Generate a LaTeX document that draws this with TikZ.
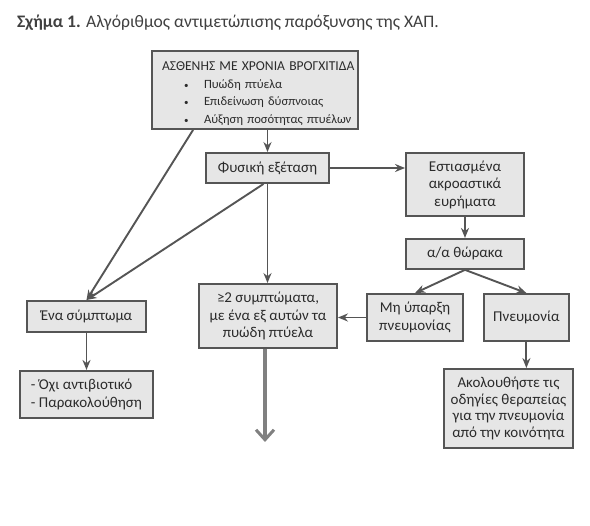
\documentclass[tikz,border=0pt]{standalone}
\usepackage{fontspec}
\setmainfont{Carlito}
\usetikzlibrary{arrows.meta, positioning, calc}
\definecolor{BoxFill}{HTML}{E6E6E6}
\definecolor{LineGray}{HTML}{555555}
\definecolor{TextDark}{HTML}{2B2B2B}
\newcommand{\symitem}[1]{\mbox{\makebox[42pt][l]{\hspace*{22pt}{\fontsize{9}{9}\selectfont\textbullet}}#1}}

\begin{document}
\begin{tikzpicture}[
    x=1pt, y=-1pt,
    node distance=20pt and 20pt,
    box/.style={rectangle, draw=LineGray, fill=BoxFill, line width=1.9pt, align=center, inner sep=3pt, font=\fontsize{15}{17.5}\selectfont, text=TextDark},
    arr/.style={-{Stealth[length=10pt, width=8pt]}, line width=1.9pt, LineGray},
    bigarr/.style={-{Straight Barb[length=10pt, width=18pt, line width=3pt]}, line width=4pt, LineGray!75}
  ]
  \useasboundingbox[fill=white] (0,0) rectangle (590,526);

  \node[anchor=base west, inner sep=0pt, font=\fontsize{17.6}{20}\selectfont, text=TextDark!90] (caption) at (17,28) {\textbf{Σχήμα 1.} Αλγόριθμος αντιμετώπισης παρόξυνσης της ΧΑΠ.};

  \node[box, text width=186pt, inner xsep=10pt, minimum height=78pt, align=left, font=\fontsize{12.6}{17.5}\selectfont] (patient) at (255,90) {\rule{0pt}{16pt}\mbox{\fontsize{13.6}{17.5}\selectfont ΑΣΘΕΝΗΣ ΜΕ ΧΡΟΝΙΑ ΒΡΟΓΧΙΤΙΔΑ}\\
    \symitem{Πυώδη πτύελα}\\
    \symitem{Επιδείνωση δύσπνοιας}\\
    \symitem{Αύξηση ποσότητας πτυέλων}};
  \node[box, minimum width=123pt, minimum height=30pt] (exam) at (267.5,168) {Φυσική εξέταση};
  \node[box, minimum width=118pt, minimum height=63pt] (focal) at (465,184.5) {Εστιασμένα\\ακροαστικά\\ευρήματα};
  \node[box, minimum width=118pt, minimum height=30pt, below=21pt of focal] (xray) {α/α θώρακα};
  \node[box, minimum width=96pt, minimum height=47pt] (nopneu) at (415,317.5) {Μη ύπαρξη\\πνευμονίας};
  \node[box, minimum width=85pt, minimum height=47pt, right=19pt of nopneu] (pneu) {Πνευμονία};
  \node[box, minimum width=129pt, minimum height=79pt, font=\fontsize{15}{16.5}\selectfont] (guide) at (508.5,408.5) {Ακολουθήστε τις\\οδηγίες θεραπείας\\για την πνευμονία\\από την κοινότητα};
  \node[box, minimum width=138pt, minimum height=64pt] (twosym) at (268,316) {≥2 συμπτώματα,\\με ένα εξ αυτών τα\\πυώδη πτύελα};
  \node[box, minimum width=119pt, minimum height=31pt] (onesym) at (86.5,316.5) {Ένα σύμπτωμα};
  \node[box, minimum width=133pt, minimum height=47pt, align=left, below=37pt of onesym] (noab) {- Όχι αντιβιοτικό\\- Παρακολούθηση};
  \coordinate (down) at (265,442);

  \draw[arr] (patient.south -| exam.north) -- (exam.north);
  \draw[arr] ([xshift=42pt]patient.south west) -- (onesym.north);
  \draw[arr] ([xshift=-4pt]exam.south) -- (onesym.north);
  \draw[arr] (exam.south) -- (exam.south |- twosym.north);
  \draw[arr] (exam.east) -- (exam.east -| focal.west);
  \draw[arr] (focal) -- (xray);
  \draw[arr] (xray.south) -- (nopneu.north);
  \draw[arr] (xray.south) -- (pneu.north);
  \draw[arr] (nopneu.west) -- (nopneu.west -| twosym.east);
  \draw[arr] (pneu.south) -- (pneu.south |- guide.north);
  \draw[arr] (onesym.south) -- (onesym.south |- noab.north);
  \draw[bigarr] (twosym.south -| down) -- (down);
\end{tikzpicture}
\end{document}
